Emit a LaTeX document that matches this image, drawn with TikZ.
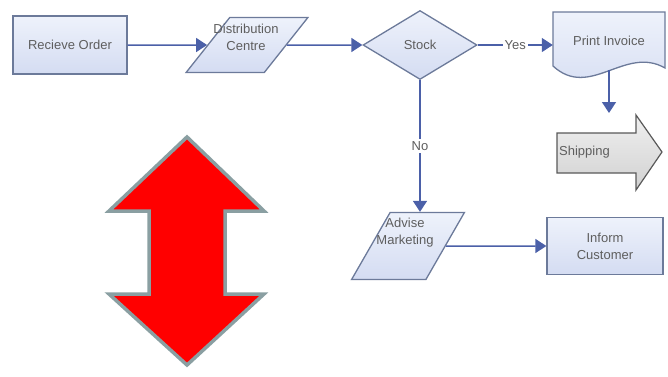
\documentclass[tikz,border=0pt]{standalone}
\usepackage{fontspec}
\setmainfont{Liberation Sans}
\usetikzlibrary{shapes.geometric,arrows.meta}
\definecolor{boxline}{HTML}{6C7A9A}
\definecolor{boxtop}{HTML}{EEF2FB}
\definecolor{boxbot}{HTML}{D4DCF2}
\definecolor{flowline}{HTML}{4B60A8}
\definecolor{textgray}{HTML}{5E5E5E}
\definecolor{arrowrim}{HTML}{8A9FA2}

\begin{document}
\begin{tikzpicture}[x=1pt,y=-1pt,line join=miter]
    \tikzstyle{txt}=[text=textgray,font=\fontsize{13}{17}\selectfont,align=center]
    \tikzstyle{box}=[draw=boxline,line width=1.3pt,top color=boxtop,bottom color=boxbot,txt]
    \tikzstyle{process}=[box,rectangle,minimum width=114pt,minimum height=58pt]
    \tikzstyle{data}=[box,trapezium,trapezium stretches=true,inner sep=4pt]
    \tikzstyle{decision}=[box,diamond,minimum width=114pt,minimum height=69pt,inner sep=0pt]
    \tikzstyle{link}=[draw=flowline,line width=1.5pt,-{Triangle[length=11pt,width=14pt]}]
    \useasboundingbox (0,0) rectangle (668,376);

    % flow chart
    \node[process] (order) at (70,45) {Recieve Order};
    \node[data,minimum width=122pt,minimum height=55pt,trapezium left angle=68,trapezium right angle=112] (dist) at (247,45) {\strut};
    \node[txt] (distText) at (246,37) {Distribution\\Centre};
    \node[decision] (stock) at (420,45) {Stock};
    \draw[box] (553,12) -- (665,12) -- (665,68) .. controls (625,45) and (590,100) .. (553,66) -- cycle;
    \node[txt,minimum width=112pt,minimum height=58pt] (inv) at (609,41) {Print Invoice};
    \node[data,minimum width=113pt,minimum height=67pt,trapezium left angle=71,trapezium right angle=109] (adv) at (408,246) {\strut};
    \node[txt] (advText) at (405,233) {Advise\\Marketing};
    \node[process,minimum width=116pt,minimum height=57pt] (cust) at (605,246) {Inform\\Customer};

    % shipping arrow
    \draw[draw=black!65,line width=1.2pt,top color=black!6,bottom color=black!18]
        (557,133) -- (636,133) -- (636,115) -- (662,152) -- (636,190) -- (636,173) -- (557,173) -- cycle;
    \node[txt,anchor=west,inner sep=1pt] (ship) at (558,152) {Shipping};
    \coordinate (shipTop) at (609,113);

    \foreach \from/\to in {order/dist, dist/stock, adv/cust}
        \draw[link] (\from) -- (\to);
    \draw[link] (stock.east) -- node[txt,fill=white,inner sep=2pt] {Yes} (stock.east -| inv.west);
    \draw[link] (stock.south) -- node[txt,fill=white,inner sep=2pt] {No} (stock.south |- adv.north);
    \draw[link] (inv.south) -- (shipTop);

    % red double arrow
    \draw[draw=arrowrim,fill=red,line width=3.5pt]
        (187,137) -- (264,211) -- (225,211) -- (225,294) -- (264,294) -- (187,365)
        -- (109,294) -- (149,294) -- (149,211) -- (109,211) -- cycle;
\end{tikzpicture}
\end{document}
